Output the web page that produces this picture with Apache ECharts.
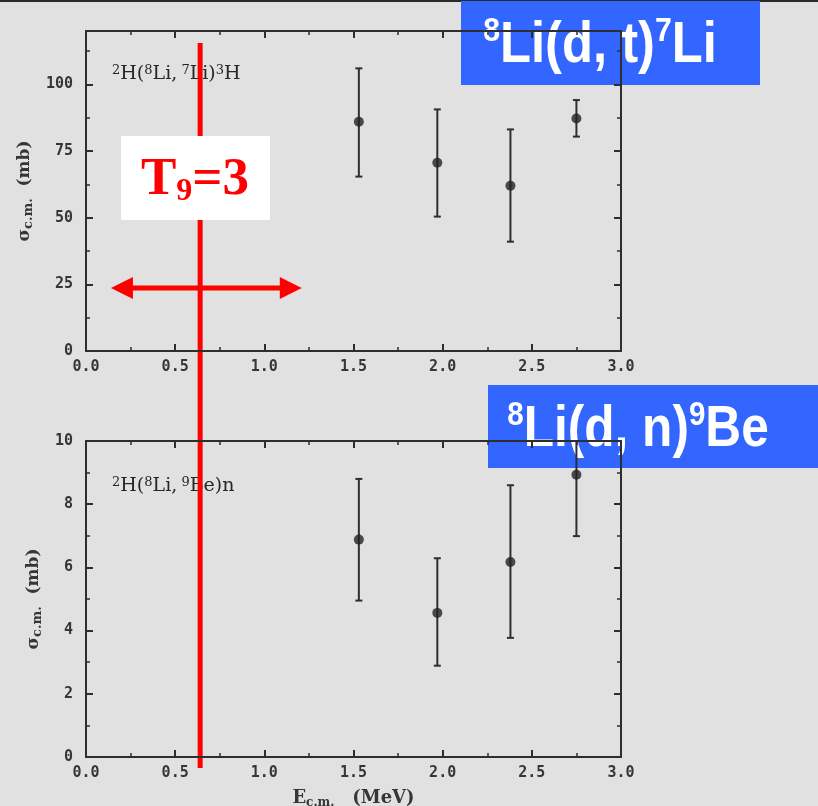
<!DOCTYPE html>
<html>
<head>
<meta charset="utf-8">
<style>
  html, body { margin: 0; padding: 0; background: #e1e1e1; }
  #main { width: 818px; height: 806px; }
</style>
<script src="https://cdn.jsdelivr.net/npm/echarts@6/dist/echarts.min.js"></script>
</head>
<body>
<div id="main"></div>
<script>
// 2H(8Li,7Li)3H  — upper panel
const energyDT = [1.53, 1.97, 2.38, 2.75];
const sigmaDT = [86, 70.6, 62, 87.2];
const sigmaDTLow = [65.4, 50.4, 41, 80.4];
const sigmaDTHigh = [106, 90.6, 83.1, 94.1];

// 2H(8Li,9Be)n — lower panel
const energyDN = [1.53, 1.97, 2.38, 2.75];
const sigmaDN = [6.88, 4.56, 6.17, 8.93];
const sigmaDNLow = [4.95, 2.89, 3.77, 6.99];
const sigmaDNHigh = [8.8, 6.29, 8.6, 10];

const xTicks = [0, 0.5, 1.0, 1.5, 2.0, 2.5, 3.0];
const yTicksDT = [0, 25, 50, 75, 100];
const yTicksDN = [0, 2, 4, 6, 8, 10];

// T9 = 3 marker energy and arrow span (MeV)
const energyT9 = 0.64;
const arrowSpan = [0.14, 1.21];
const arrowLevel = 23.6;

const ink = '#2e2e2e';
const textInk = '#363636';
const labelFont = { color: textInk, fontFamily: 'DejaVu Sans Mono', fontWeight: 'bold', fontSize: 15 };

(function () {
    const myChart = echarts.init(document.getElementById('main'));

    function frameX(gridIndex, position, showLabel) {
        return {
            type: 'value', gridIndex: gridIndex, position: position,
            min: xTicks[0], max: xTicks[xTicks.length - 1], interval: 0.5,
            splitLine: { show: false },
            axisLine: { show: true, onZero: false, lineStyle: { color: ink, width: 2 } },
            axisTick: { show: true, inside: true, length: 7, lineStyle: { color: ink, width: 2 } },
            minorTick: { show: true, splitNumber: 2, length: 4, lineStyle: { color: ink, width: 1.5 } },
            axisLabel: Object.assign({ show: showLabel, margin: 9, formatter: v => v.toFixed(1) }, labelFont)
        };
    }

    function frameY(gridIndex, position, ticks, showLabel) {
        const step = ticks[1] - ticks[0];
        return {
            type: 'value', gridIndex: gridIndex, position: position,
            min: 0, max: gridIndex === 0 ? 120 : 10, interval: step,
            splitLine: { show: false },
            axisLine: { show: true, onZero: false, lineStyle: { color: ink, width: 2 } },
            axisTick: { show: true, inside: true, length: 7, lineStyle: { color: ink, width: 2 } },
            minorTick: { show: true, splitNumber: 2, length: 4, lineStyle: { color: ink, width: 1.5 } },
            axisLabel: Object.assign({
                show: showLabel, margin: 13,
                formatter: v => (ticks.indexOf(v) >= 0 ? String(v) : '')
            }, labelFont),
            name: showLabel ? '{s|σ}{sub|c.m.}  {s|(mb)}' : '',
            nameLocation: 'middle',
            nameGap: 42,
            nameRotate: 90,
            nameTextStyle: {
                color: textInk, fontFamily: 'DejaVu Serif', fontWeight: 'bold', fontSize: 17,
                rich: {
                    s: { fontFamily: 'DejaVu Serif', fontWeight: 'bold', fontSize: 17, color: textInk },
                    sub: { fontFamily: 'DejaVu Serif', fontWeight: 'bold', fontSize: 13, color: textInk, verticalAlign: 'bottom', padding: [8, 0, 0, 0] }
                }
            }
        };
    }

    function errorBars(params, api) {
        const x = api.value(0);
        const lo = api.coord([x, api.value(1)]);
        const hi = api.coord([x, api.value(2)]);
        const w = 3.5;
        const st = { stroke: ink, lineWidth: 2 };
        return {
            type: 'group',
            children: [
                { type: 'line', shape: { x1: lo[0], y1: lo[1], x2: hi[0], y2: hi[1] }, style: st },
                { type: 'line', shape: { x1: lo[0] - w, y1: lo[1], x2: lo[0] + w, y2: lo[1] }, style: st },
                { type: 'line', shape: { x1: hi[0] - w, y1: hi[1], x2: hi[0] + w, y2: hi[1] }, style: st }
            ]
        };
    }

    const xDN = frameX(1, 'bottom', true);
    xDN.name = '{e|E}{sub|c.m.}   {e|(MeV)}';
    xDN.nameLocation = 'middle';
    xDN.nameGap = 30;
    xDN.nameTextStyle = {
        color: textInk, fontFamily: 'DejaVu Serif', fontWeight: 'bold', fontSize: 17,
        rich: {
            e: { fontFamily: 'DejaVu Serif', fontWeight: 'bold', fontSize: 18, color: textInk },
            sub: { fontFamily: 'DejaVu Serif', fontWeight: 'bold', fontSize: 12, color: textInk, verticalAlign: 'bottom', padding: [10, 0, 0, 0] }
        }
    };

    const option = {
        backgroundColor: '#e1e1e1',
        animation: false,
        grid: [
            { left: 86, top: 31, width: 535, height: 320, outerBoundsMode: 'none' },
            { left: 86, top: 441, width: 535, height: 316, outerBoundsMode: 'none' }
        ],
        xAxis: [
            frameX(0, 'bottom', true),
            frameX(0, 'top', false),
            xDN,
            frameX(1, 'top', false)
        ],
        yAxis: [
            frameY(0, 'left', yTicksDT, true),
            frameY(0, 'right', yTicksDT, false),
            frameY(1, 'left', yTicksDN, true),
            frameY(1, 'right', yTicksDN, false)
        ],
        series: [
            {
                type: 'custom', xAxisIndex: 0, yAxisIndex: 0, renderItem: errorBars, clip: false,
                encode: { x: 0, y: [1, 2] },
                data: energyDT.map((e, i) => [e, sigmaDTLow[i], sigmaDTHigh[i]])
            },
            {
                type: 'scatter', xAxisIndex: 0, yAxisIndex: 0, symbol: 'circle', symbolSize: 10,
                itemStyle: { color: '#222' },
                data: energyDT.map((e, i) => [e, sigmaDT[i]])
            },
            {
                type: 'custom', xAxisIndex: 2, yAxisIndex: 2, renderItem: errorBars, clip: false,
                encode: { x: 0, y: [1, 2] },
                data: energyDN.map((e, i) => [e, sigmaDNLow[i], sigmaDNHigh[i]])
            },
            {
                type: 'scatter', xAxisIndex: 2, yAxisIndex: 2, symbol: 'circle', symbolSize: 10,
                itemStyle: { color: '#222' },
                data: energyDN.map((e, i) => [e, sigmaDN[i]])
            }
        ]
    };

    myChart.setOption(option);

    // annotations anchored on the data scale
    const xT9 = myChart.convertToPixel({ xAxisIndex: 0 }, energyT9);
    const xL = myChart.convertToPixel({ xAxisIndex: 0 }, arrowSpan[0]);
    const xR = myChart.convertToPixel({ xAxisIndex: 0 }, arrowSpan[1]);
    const yA = myChart.convertToPixel({ yAxisIndex: 0 }, arrowLevel);
    const red = '#ff0000';
    const head = 22;

    const reactionRich = {
        m: { fontFamily: 'DejaVu Serif', fontSize: 19, fill: '#262626' },
        sup: { fontFamily: 'DejaVu Serif', fontSize: 13, fill: '#262626', verticalAlign: 'top' }
    };
    const sans = 'Liberation Sans, Arial, Helvetica, sans-serif';
    const boxRich = {
        b: { fontFamily: sans, fontWeight: 'bold', fontSize: 57, fill: '#ffffff', lineHeight: 62 },
        sup: { fontFamily: sans, fontWeight: 'bold', fontSize: 34, fill: '#ffffff', verticalAlign: 'top', lineHeight: 62 }
    };

    myChart.setOption({
        graphic: [
            { type: 'rect', shape: { x: 0, y: 0, width: 818, height: 2 }, style: { fill: '#2a2a2a' } },
            {
                type: 'text', x: 112, y: 74,
                style: { text: '{sup|2}{m|H(}{sup|8}{m|Li,}{sup| 7}{m|Li)}{sup|3}{m|H}', rich: reactionRich, verticalAlign: 'middle' }
            },
            {
                type: 'text', x: 112, y: 486,
                style: { text: '{sup|2}{m|H(}{sup|8}{m|Li,}{sup| 9}{m|Be)n}', rich: reactionRich, verticalAlign: 'middle' }
            },
            { type: 'line', shape: { x1: xT9, y1: 43, x2: xT9, y2: 768 }, style: { stroke: red, lineWidth: 5 } },
            { type: 'line', shape: { x1: xL + head - 2, y1: yA, x2: xR - head + 2, y2: yA }, style: { stroke: red, lineWidth: 5 } },
            { type: 'polygon', shape: { points: [[xL, yA], [xL + head, yA - 11], [xL + head, yA + 11]] }, style: { fill: red } },
            { type: 'polygon', shape: { points: [[xR, yA], [xR - head, yA - 11], [xR - head, yA + 11]] }, style: { fill: red } },
            { type: 'rect', shape: { x: 121, y: 136, width: 149, height: 84 }, style: { fill: '#ffffff' } },
            {
                type: 'text', x: 195, y: 180,
                style: {
                    text: '{t|T}{s|9}{t|=3}', align: 'center', verticalAlign: 'middle',
                    rich: {
                        t: { fontFamily: 'Liberation Serif', fontWeight: 'bold', fontSize: 53, fill: red, lineHeight: 56 },
                        s: { fontFamily: 'Liberation Serif', fontWeight: 'bold', fontSize: 32, fill: red, verticalAlign: 'bottom', lineHeight: 56, padding: [24, 0, 0, 0] }
                    }
                }
            },
            { type: 'rect', shape: { x: 461, y: 1, width: 299, height: 84 }, style: { fill: '#3366ff' } },
            {
                type: 'text', x: 600, y: 46, scaleX: 0.89,
                style: { text: '{sup|8}{b|Li(d, t)}{sup|7}{b|Li}', rich: boxRich, align: 'center', verticalAlign: 'middle' }
            },
            { type: 'rect', shape: { x: 488, y: 385, width: 330, height: 83 }, style: { fill: '#3366ff' } },
            {
                type: 'text', x: 638, y: 430, scaleX: 0.87,
                style: { text: '{sup|8}{b|Li(d, n)}{sup|9}{b|Be}', rich: boxRich, align: 'center', verticalAlign: 'middle' }
            }
        ]
    });

    window.addEventListener('resize', function () {
        myChart.resize();
    });
})();
</script>
</body>
</html>
